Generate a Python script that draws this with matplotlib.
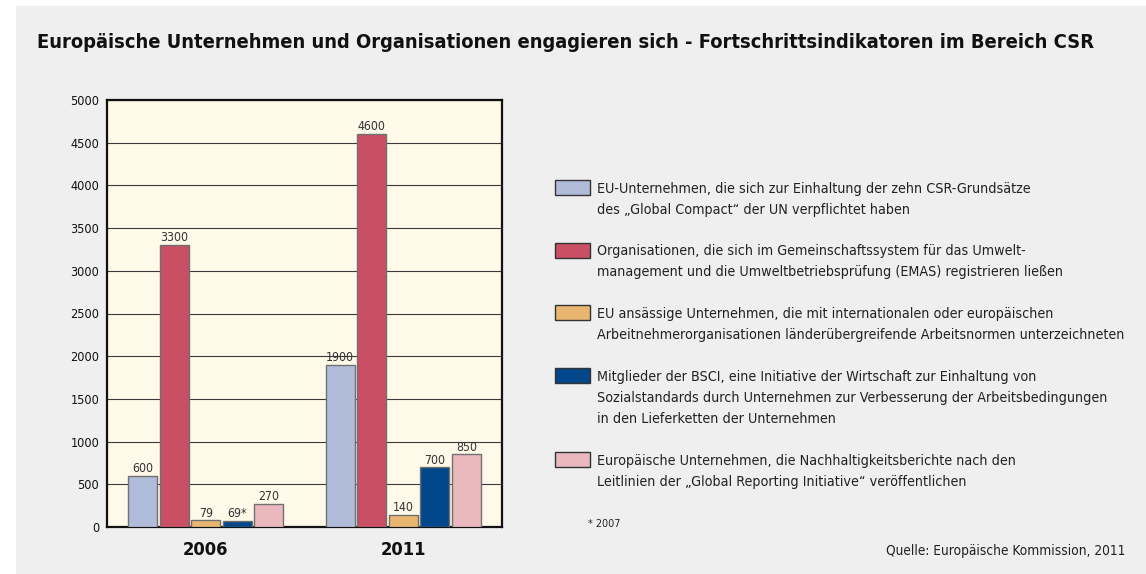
import numpy as np
import matplotlib.pyplot as plt
from matplotlib import font_manager
from matplotlib.patches import Rectangle

# look for a narrow sans font, otherwise plain DejaVu Sans
narrow = None
for f in font_manager.fontManager.ttflist:
    if 'Narrow' in f.name or 'Condensed' in f.name or f.stretch in ('condensed', 'semi-condensed'):
        narrow = (f.name, f.stretch)
        break
if narrow is None:
    narrow = ('DejaVu Sans', 'normal')
plt.rcParams['font.family'] = [narrow[0], 'DejaVu Sans']
plt.rcParams['font.stretch'] = narrow[1]

years = ['2006', '2011']
series_labels = [
    ['EU-Unternehmen, die sich zur Einhaltung der zehn CSR-Grundsätze',
     'des „Global Compact“ der UN verpflichtet haben'],
    ['Organisationen, die sich im Gemeinschaftssystem für das Umwelt-',
     'management und die Umweltbetriebsprüfung (EMAS) registrieren ließen'],
    ['EU ansässige Unternehmen, die mit internationalen oder europäischen',
     'Arbeitnehmerorganisationen länderübergreifende Arbeitsnormen unterzeichneten'],
    ['Mitglieder der BSCI, eine Initiative der Wirtschaft zur Einhaltung von',
     'Sozialstandards durch Unternehmen zur Verbesserung der Arbeitsbedingungen',
     'in den Lieferketten der Unternehmen'],
    ['Europäische Unternehmen, die Nachhaltigkeitsberichte nach den',
     'Leitlinien der „Global Reporting Initiative“ veröffentlichen'],
]
values_2006 = [600, 3300, 79, 69, 270]
values_2011 = [1900, 4600, 140, 700, 850]
labels_2006 = ['600', '3300', '79', '69*', '270']
labels_2011 = ['1900', '4600', '140', '700', '850']
colors = ['#b1bcda', '#c94f64', '#e8b670', '#02478a', '#e9b9bd']

W, H = 1146, 574
fig = plt.figure(figsize=(W / 100, H / 100), dpi=100)
fig.patch.set_facecolor('white')
fig.add_artist(Rectangle((16 / W, 0.0), 1.0, 1 - 6 / H, transform=fig.transFigure,
                         facecolor='#efefef', edgecolor='none', zorder=-10))
renderer = fig.canvas.get_renderer()


def fit(t, target):
    w = t.get_window_extent(renderer).width
    t.set_fontsize(t.get_fontsize() * target / w)


ax = fig.add_axes([107 / W, 1 - 527 / H, 395 / W, 427 / H])
ax.set_facecolor('#fef9e8')

x = np.arange(len(years))
pitch = 0.16
width = 0.147
val_texts = []
for i in range(5):
    pos = x + (i - 2) * pitch
    vals = [values_2006[i], values_2011[i]]
    bars = ax.bar(pos, vals, width, color=colors[i], edgecolor='#707070', linewidth=1, zorder=3)
    for b, lab in zip(bars, [labels_2006[i], labels_2011[i]]):
        t = ax.annotate(lab, (b.get_x() + b.get_width() / 2, b.get_height()), xytext=(0, 0.5),
                        textcoords='offset points', ha='center', va='bottom', fontsize=10,
                        color='#333333')
        val_texts.append(t)

ax.set_xlim(-0.5, 1.5)
ax.set_ylim(0, 5000)
ax.set_yticks(range(0, 5001, 500))
ax.yaxis.grid(True, color='#3a3a3a', linewidth=0.8, zorder=1)
ax.set_axisbelow(True)
ax.tick_params(axis='x', length=0, pad=10)
ax.tick_params(axis='y', length=0, pad=5.5)
ax.set_xticks(x)
ax.set_xticklabels(years, fontweight='bold', color='#111111')
for s in ax.spines.values():
    s.set_linewidth(1.6)
    s.set_color('#111111')

# size the numbers like the reference (e.g. "3300" ~ 28 px, "5000" ~ 29 px, "2006" ~ 46 px)
probe = fig.text(0, 0, '3300', fontsize=10)
fit(probe, 28)
vsize = probe.get_fontsize()
probe.set_text('2006')
probe.set_fontweight('bold')
probe.set_fontsize(14)
fit(probe, 46)
ysize = probe.get_fontsize()
probe.remove()
for t in val_texts:
    t.set_fontsize(vsize)
ax.tick_params(axis='y', labelsize=vsize * 29 / 28, labelcolor='#111111')
ax.tick_params(axis='x', labelsize=ysize)

title = fig.text(37 / W, 1 - 48 / H,
                 'Europäische Unternehmen und Organisationen engagieren sich - Fortschrittsindikatoren im Bereich CSR',
                 fontsize=15, fontweight='bold', va='baseline', ha='left', color='#111111')
fit(title, 1061)

# legend drawn by hand: patch top and the baseline of each text line
patch_tops = [180, 243, 305, 368, 452]
line_base = [[193, 214], [255, 276], [318, 339], [381, 402, 423], [465, 486]]
probe = fig.text(0, 0, series_labels[2][1], fontsize=11)
fit(probe, 530)
lsize = probe.get_fontsize()
probe.remove()
for c, lines, top, ys in zip(colors, series_labels, patch_tops, line_base):
    fig.add_artist(Rectangle((555 / W, 1 - (top + 15) / H), 35 / W, 15 / H,
                             transform=fig.transFigure, facecolor=c, edgecolor='#333333',
                             linewidth=1))
    for line, yy in zip(lines, ys):
        fig.text(597 / W, 1 - yy / H, line, fontsize=lsize, va='baseline', ha='left',
                 color='#222222')

fig.text(588 / W, 1 - 527 / H, '* 2007', fontsize=lsize * 0.75, va='baseline', ha='left',
         color='#222222')
src = fig.text(1125 / W, 1 - 555 / H, 'Quelle: Europäische Kommission, 2011', fontsize=10.5,
               va='baseline', ha='right', color='#222222')
fit(src, 241)

fig.savefig('out.png', dpi=100)
